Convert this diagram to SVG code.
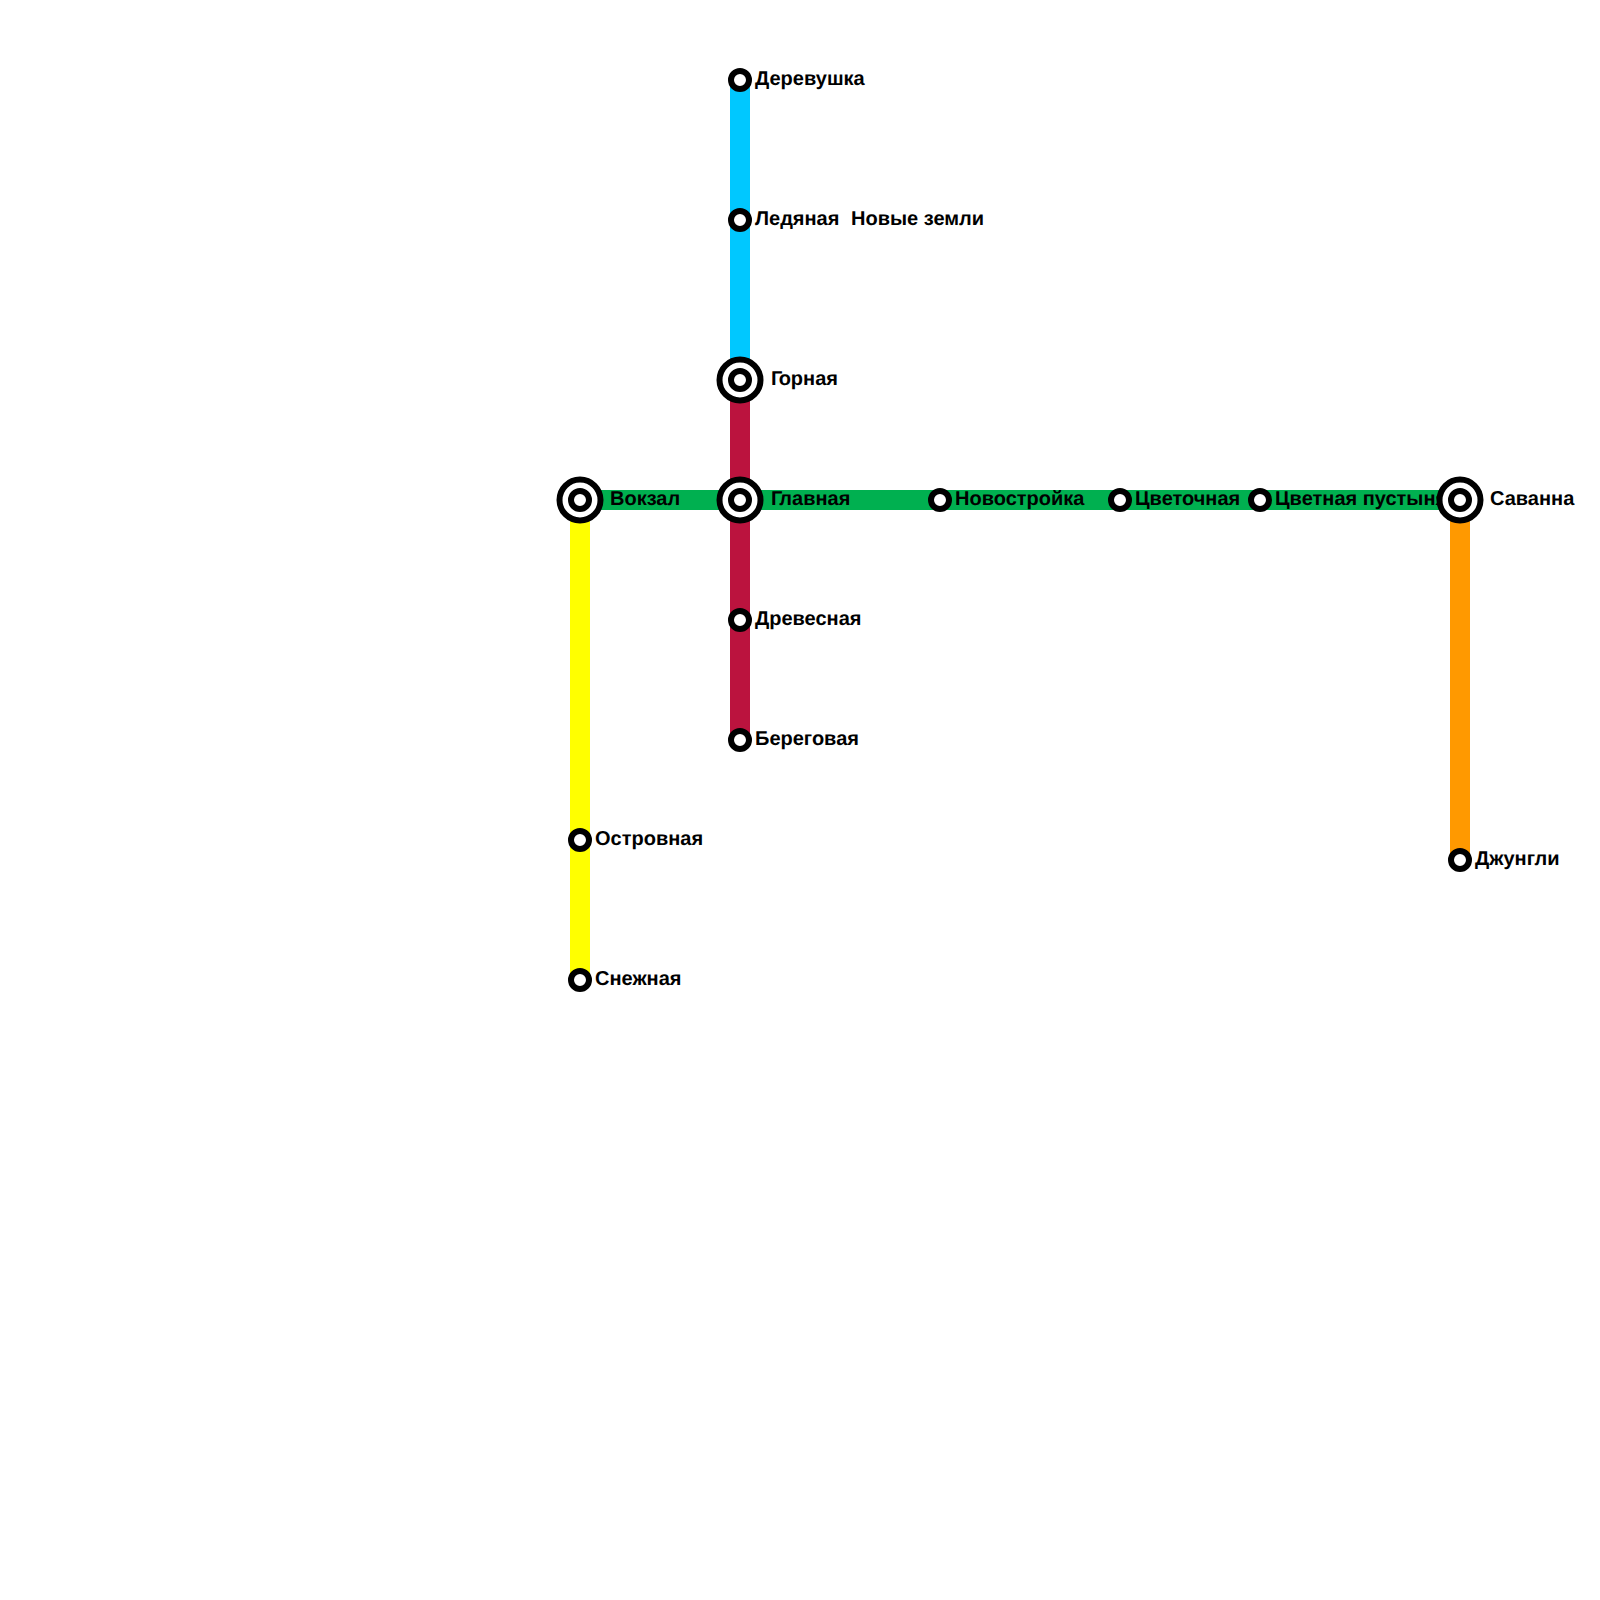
<svg xmlns="http://www.w3.org/2000/svg" width="1600" height="1600" viewBox="0 0 1600 1600">
<style>
.l{fill:none;stroke-width:20}
.s{fill:#fff;stroke:#000;stroke-width:6}
.o{fill:#fff;stroke:#000;stroke-width:6}
text{font-family:"Liberation Sans",Arial,sans-serif;font-weight:bold;font-size:20px;fill:#000;font-kerning:normal;text-rendering:geometricPrecision}
</style>
<defs>
<g id="small"><circle class="s" r="9"/></g>
<g id="big"><circle class="o" r="20.5"/><circle class="s" r="9"/></g>
</defs>
<rect width="1600" height="1600" fill="#fff"/>
<g id="connectors">
<path class="l" stroke="#ffff00" d="M580 500V980"/>
<path class="l" stroke="#00b050" d="M580 500H1460"/>
<path class="l" stroke="#00c8ff" d="M740 80V380"/>
<path class="l" stroke="#bb133e" d="M740 380V740"/>
<path class="l" stroke="#ff9900" d="M1460 500V860"/>
</g>
<g id="n1"><use href="#small" x="740" y="80"/><text x="755" y="85">Деревушка</text></g>
<g id="n2"><use href="#small" x="740" y="220"/><text x="755" y="225">Ледяная</text><text x="851" y="225">Новые земли</text></g>
<g id="n3"><use href="#big" x="740" y="380"/><text x="771" y="385" dx="0 -2.7">Горная</text></g>
<g id="n4"><use href="#big" x="580" y="500"/><text x="610" y="505">Вокзал</text></g>
<g id="n5"><use href="#big" x="740" y="500"/><text x="771" y="505" dx="0 -2">Главная</text></g>
<g id="n6"><use href="#small" x="940" y="500"/><text x="955" y="505">Новостройка</text></g>
<g id="n7"><use href="#small" x="1120" y="500"/><text x="1135" y="505">Цветочная</text></g>
<g id="n8"><use href="#small" x="1260" y="500"/><text x="1275" y="505">Цветная пустыня</text></g>
<g id="n9"><use href="#big" x="1460" y="500"/><text x="1490" y="505">Саванна</text></g>
<g id="n10"><use href="#small" x="740" y="620"/><text x="755" y="625">Древесная</text></g>
<g id="n11"><use href="#small" x="740" y="740"/><text x="755" y="745">Береговая</text></g>
<g id="n12"><use href="#small" x="580" y="840"/><text x="595" y="845">Островная</text></g>
<g id="n13"><use href="#small" x="580" y="980"/><text x="595" y="985">Снежная</text></g>
<g id="n14"><use href="#small" x="1460" y="860"/><text x="1475" y="865">Джунгли</text></g>
</svg>
